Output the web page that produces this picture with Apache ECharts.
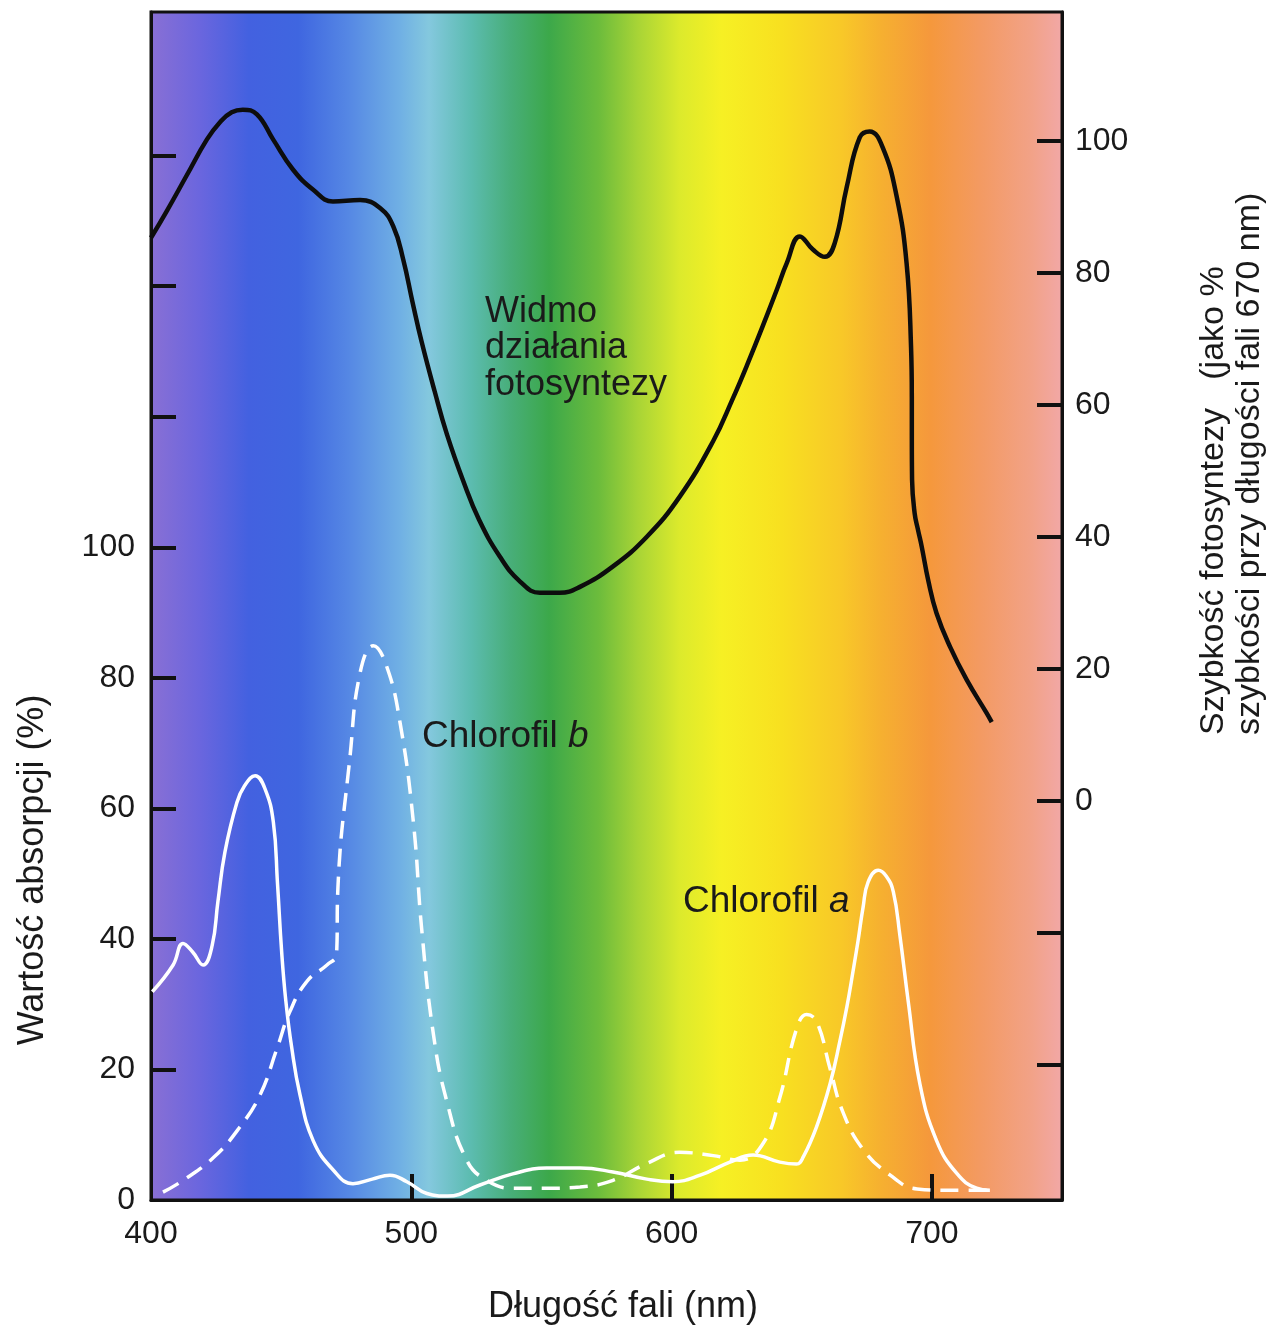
<!DOCTYPE html>
<html>
<head>
<meta charset="utf-8">
<script src="https://cdn.jsdelivr.net/npm/echarts@6/dist/echarts.min.js"></script>
<style>
  html, body { margin: 0; padding: 0; background: #ffffff; }
  #chart { width: 1274px; height: 1335px; }
</style>
</head>
<body>
<div id="chart"></div>
<script>
// ---------- DATA ----------
// Action spectrum of photosynthesis (right axis, % of rate at 670 nm)
const actionWavelengths = [400, 406, 413.8, 421.5, 426.5, 431, 435.3, 440.7, 446.9, 454.6, 462.2, 469.9, 480.3, 488, 493.1, 496.9, 500.5, 504, 509, 513.7, 520, 526, 534, 541.8, 549.4, 557, 564.8, 577.5, 590.5, 603, 616, 623.6, 629, 636.6, 640.5, 644.3, 649.3, 654.3, 658.9, 662.7, 667.3, 672.3, 676.1, 681.1, 686.5, 690.3, 692.0, 692.3, 692.3, 692.4, 693.4, 694.7, 696.1, 698.6, 701.8, 707, 713.4, 721, 723];
const actionValues      = [85.3, 89.3, 94.8, 100.2, 102.8, 104.3, 104.7, 104, 100.2, 95.6, 92.6, 90.8, 91, 89.8, 87, 82, 75.5, 69.5, 62, 55.5, 48.4, 42.6, 37, 33.2, 31.5, 31.5, 32.4, 35.5, 40, 46, 54.5, 61, 66, 73.5, 77.5, 81.5, 85.5, 83.5, 82.4, 84.5, 93, 100.5, 101.4, 99, 91.5, 81.4, 68.8, 61.2, 55, 48.6, 43.5, 41, 38.5, 33.4, 28.4, 23.3, 18.3, 13.3, 11.9];

// Chlorophyll a absorption (left axis, %)
const chlAWavelengths = [400.5, 408.5, 412.3, 416, 420, 423.5, 425.7, 428.4, 433, 436, 440, 443.8, 447, 448.6, 450.2, 451.8, 454, 457.2, 462.3, 470, 477.6, 485, 491.8, 498.3, 506, 514, 526.4, 539, 552, 564.8, 577.5, 590.5, 600.5, 611, 622.4, 631.3, 641.6, 648, 650.6, 655.7, 660.9, 664.7, 667.4, 669.7, 671.6, 673.6, 675.5, 679.4, 682.5, 685.2, 687.7, 690.9, 695.4, 701.8, 709.5, 717.2, 722.3];
const chlAValues      = [31.9, 36, 39.3, 38, 36, 39, 45.7, 53.3, 60.9, 63.5, 65, 63, 57.9, 48.5, 38, 30.5, 23.5, 16.2, 9.1, 4.6, 2.5, 3.2, 3.8, 2.8, 1, 0.6, 2.3, 4, 4.9, 4.9, 4.3, 3.2, 2.8, 3.8, 5.8, 6.9, 5.8, 5.5, 6.6, 11.2, 17.8, 24.4, 29.7, 35, 39.6, 44.9, 48.7, 50.5, 49.6, 47.2, 40.6, 30.5, 17.8, 9.1, 4.1, 1.8, 1.5];

// Chlorophyll b absorption (left axis, %)
const chlBWavelengths = [404.6, 412.3, 424, 434, 441.9, 448.4, 453.4, 459.9, 467.6, 471.3, 471.8, 476.5, 480.3, 485.4, 490.5, 495.7, 500.8, 504, 508.5, 513.6, 521.3, 529, 539, 552, 564.8, 577.5, 590.5, 603, 616, 626.3, 635.2, 641.6, 648, 651.9, 655.8, 660.9, 665.8, 673.5, 684, 694.3, 707, 722];
const chlBValues      = [1.2, 3, 6.5, 11.1, 16.1, 23.2, 28.9, 33.5, 36, 37.6, 47.7, 68.1, 80.7, 84.9, 81.8, 73.1, 57.9, 41.5, 25.4, 15.2, 6.1, 3, 1.8, 1.8, 2, 3, 5.6, 7.3, 6.8, 6.1, 8.7, 15.7, 26.2, 28.4, 27.3, 20.1, 13.5, 7.8, 3.8, 1.7, 1.5, 1.5];

// Tick values / labels
const xTickValues      = [500, 600, 700];
const xLabelValues     = [400, 500, 600, 700];
const leftTickValues   = [20, 40, 60, 80, 100, 120, 140, 160];
const leftLabelValues  = [0, 20, 40, 60, 80, 100];
const rightTickValues  = [-40, -20, 0, 20, 40, 60, 80, 100];
const rightLabelValues = [0, 20, 40, 60, 80, 100];

// Texts
const xTitle = 'Długość fali (nm)';
const leftTitle = 'Wartość absorpcji (%)';
const rightTitleLine1 = 'Szybkość fotosyntezy   (jako %';
const rightTitleLine2 = 'szybkości przy długości fali 670 nm)';
const actionLabel = 'Widmo\ndziałania\nfotosyntezy';
const chlBLabel = 'Chlorofil ';
const chlBLetter = 'b';
const chlALabel = 'Chlorofil ';
const chlALetter = 'a';

// Spectrum background colours (wavelength -> colour)
const spectrumWavelengths = [400, 419, 438, 457, 476, 496, 507, 523, 538, 553, 572, 587, 603, 619, 642, 665, 680, 699, 718, 738, 750];
const spectrumColors = ['#8a70d4', '#6b66de', '#4361e0', '#3f66e0', '#5587e4', '#70b0e4', '#84c8de', '#5cbcb0', '#48ae7a', '#3ca84a', '#6cbc3c', '#a8d436', '#dcea2c', '#f6f024', '#f8e020', '#f8c828', '#f6b030', '#f5983c', '#f39a62', '#f2a288', '#f2a8a8'];

// ---------- CHART ----------
const X_MIN = 400, X_MAX = 750;
const FONT = '"Liberation Sans", Arial, Helvetica, sans-serif';
const INK = '#1a1a1a';

const pairs = (xs, ys) => xs.map((x, i) => [x, ys[i]]);

const gradient = {
  type: 'linear', x: 0, y: 0, x2: 1, y2: 0,
  colorStops: spectrumWavelengths.map((w, i) => ({ offset: (w - X_MIN) / (X_MAX - X_MIN), color: spectrumColors[i] }))
};

const chart = echarts.init(document.getElementById('chart'), null, { renderer: 'canvas' });

const axisLineStyle = { show: true, lineStyle: { color: '#111', width: 3 } };
const tickStyle = { color: '#111', width: 4 };
const richLabel = {
  n: { fontSize: 37, fontFamily: FONT, fill: INK },
  i: { fontSize: 37, fontFamily: FONT, fontStyle: 'italic', fill: INK }
};

chart.setOption({
  animation: false,
  backgroundColor: '#ffffff',
  grid: {
    left: 151, right: 212, top: 12, bottom: 135,
    show: true,
    backgroundColor: gradient,
    borderColor: '#111',
    borderWidth: 3
  },
  xAxis: {
    type: 'value', min: X_MIN, max: X_MAX,
    axisLine: axisLineStyle,
    axisTick: { show: true, inside: true, length: 26, lineStyle: tickStyle, customValues: xTickValues },
    axisLabel: { customValues: xLabelValues, fontSize: 32, fontFamily: FONT, color: INK, margin: 18 },
    splitLine: { show: false }
  },
  yAxis: [
    {
      type: 'value', position: 'left', min: 0, max: 182,
      axisLine: axisLineStyle,
      axisTick: { show: true, inside: true, length: 25, lineStyle: tickStyle, customValues: leftTickValues },
      axisLabel: { customValues: leftLabelValues, fontSize: 32, fontFamily: FONT, color: INK, margin: 16 },
      splitLine: { show: false }
    },
    {
      type: 'value', position: 'right', min: -60.5, max: 119.5,
      axisLine: axisLineStyle,
      axisTick: { show: true, inside: true, length: 25, lineStyle: tickStyle, customValues: rightTickValues },
      axisLabel: { customValues: rightLabelValues, fontSize: 32, fontFamily: FONT, color: INK, margin: 13 },
      splitLine: { show: false }
    }
  ],
  series: [
    {
      name: 'Chlorofil b', type: 'line', xAxisIndex: 0, yAxisIndex: 0,
      data: pairs(chlBWavelengths, chlBValues),
      showSymbol: false, smooth: 0.45,
      lineStyle: { color: '#ffffff', width: 3.5, type: [18, 10] },
      z: 3
    },
    {
      name: 'Chlorofil a', type: 'line', xAxisIndex: 0, yAxisIndex: 0,
      data: pairs(chlAWavelengths, chlAValues),
      showSymbol: false, smooth: 0.45,
      lineStyle: { color: '#ffffff', width: 3.5 },
      z: 4
    },
    {
      name: 'Widmo działania fotosyntezy', type: 'line', xAxisIndex: 0, yAxisIndex: 1,
      data: pairs(actionWavelengths, actionValues),
      showSymbol: false, smooth: 0.45,
      lineStyle: { color: '#0d0d0d', width: 4.5 },
      z: 5
    }
  ],
  graphic: [
    { type: 'text', x: 485, y: 293.5, z: 10,
      style: { text: actionLabel, font: '36px ' + FONT, fill: INK, lineHeight: 36.5, textAlign: 'left', textVerticalAlign: 'top' } },
    { type: 'text', x: 422, y: 737, z: 10,
      style: { text: '{n|' + chlBLabel + '}{i|' + chlBLetter + '}', fill: INK, textAlign: 'left', textVerticalAlign: 'middle', rich: richLabel } },
    { type: 'text', x: 683, y: 902, z: 10,
      style: { text: '{n|' + chlALabel + '}{i|' + chlALetter + '}', fill: INK, textAlign: 'left', textVerticalAlign: 'middle', rich: richLabel } },
    { type: 'text', x: 623, y: 1307, z: 10,
      style: { text: xTitle, font: '36px ' + FONT, fill: INK, textAlign: 'center', textVerticalAlign: 'middle' } },
    { type: 'text', x: 33, y: 870, rotation: Math.PI / 2, z: 10,
      style: { text: leftTitle, font: '36px ' + FONT, fill: INK, textAlign: 'center', textVerticalAlign: 'middle' } },
    { type: 'text', x: 1214, y: 735, rotation: Math.PI / 2, z: 10,
      style: { text: rightTitleLine1, font: '34px ' + FONT, fill: INK, textAlign: 'left', textVerticalAlign: 'middle' } },
    { type: 'text', x: 1250, y: 735, rotation: Math.PI / 2, z: 10,
      style: { text: rightTitleLine2, font: '34px ' + FONT, fill: INK, textAlign: 'left', textVerticalAlign: 'middle' } }
  ]
});
</script>
</body>
</html>
